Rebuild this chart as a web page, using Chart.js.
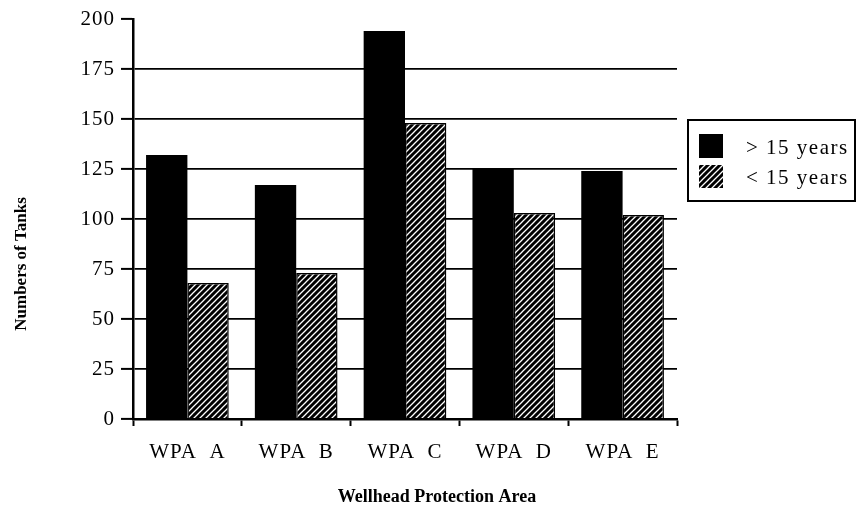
<!DOCTYPE html>
<html>
<head>
<meta charset="utf-8">
<script src="https://cdn.jsdelivr.net/npm/chart.js@4"></script>
<style>
  html, body { margin: 0; background: #fff; }
</style>
</head>
<body>
<canvas id="chart" width="857" height="527"></canvas>
<script>
var categories = ['WPA  A', 'WPA  B', 'WPA  C', 'WPA  D', 'WPA  E'];
var olderTanks = [132, 117, 194, 125, 124];   // > 15 years
var newerTanks = [68, 73, 148, 103, 102];     // < 15 years
var seriesNames = ['> 15 years', '< 15 years'];
var xTitle = 'Wellhead Protection Area';
var yTitle = 'Numbers of Tanks';

var serif = "'Liberation Serif', 'DejaVu Serif', serif";

function hatch() {
  var c = document.createElement('canvas');
  c.width = 6; c.height = 6;
  var g = c.getContext('2d');
  g.fillStyle = '#000';
  g.fillRect(0, 0, 6, 6);
  g.strokeStyle = '#fff';
  g.lineWidth = 1.3;
  g.beginPath();
  g.moveTo(-1, 7); g.lineTo(7, -1);
  g.moveTo(-1, 1); g.lineTo(1, -1);
  g.moveTo(5, 7); g.lineTo(7, 5);
  g.stroke();
  return g.createPattern(c, 'repeat');
}
var hatchFill = hatch();

// axis titles + legend drawn by hand, the reference puts them off-centre
var extras = {
  id: 'extras',
  beforeDraw: function (chart) {
    // the original font (Palatino) runs wider than Times
    chart.ctx.letterSpacing = '1px';
  },
  afterDraw: function (chart) {
    var ctx = chart.ctx;
    ctx.save();
    ctx.letterSpacing = '0px';
    ctx.fillStyle = '#000';
    ctx.textAlign = 'center';
    ctx.textBaseline = 'middle';
    ctx.font = 'bold 18px ' + serif;
    ctx.fillText(xTitle, 437, 497);
    ctx.translate(22, 264);
    ctx.rotate(-Math.PI / 2);
    ctx.font = 'bold 17px ' + serif;
    ctx.fillText(yTitle, 0, 0);
    ctx.restore();

    ctx.save();
    ctx.strokeStyle = '#000';
    ctx.lineWidth = 2;
    ctx.strokeRect(688, 120, 167, 81);
    ctx.fillStyle = '#000';
    ctx.fillRect(699, 134, 24, 24);
    ctx.fillStyle = hatchFill;
    ctx.fillRect(699, 165, 24, 23);
    ctx.fillStyle = '#000';
    ctx.letterSpacing = '1.5px';
    ctx.font = '21px ' + serif;
    ctx.textAlign = 'left';
    ctx.textBaseline = 'middle';
    ctx.fillText(seriesNames[0], 746, 148);
    ctx.fillText(seriesNames[1], 746, 178);
    ctx.restore();
  }
};

new Chart(document.getElementById('chart'), {
  type: 'bar',
  data: {
    labels: categories,
    datasets: [
      {
        label: seriesNames[0],
        data: olderTanks,
        backgroundColor: '#000',
        borderColor: '#000',
        borderWidth: 0
      },
      {
        label: seriesNames[1],
        data: newerTanks,
        backgroundColor: hatchFill,
        borderColor: '#000',
        borderWidth: 1.5
      }
    ]
  },
  options: {
    responsive: false,
    animation: false,
    layout: { padding: { left: 0, top: 19, right: 180, bottom: 0 } },
    datasets: { bar: { categoryPercentage: 0.76, barPercentage: 1.0 } },
    plugins: { legend: { display: false }, tooltip: { enabled: false } },
    scales: {
      x: {
        offset: true,
        grid: { offset: true, drawOnChartArea: false, tickLength: 7, tickWidth: 2, tickColor: '#000' },
        border: { color: '#000', width: 2.5 },
        ticks: { color: '#000', font: { family: serif, size: 21 }, padding: 14 },
        afterFit: function (s) { s.height = 108; }
      },
      y: {
        min: 0,
        max: 200,
        ticks: { stepSize: 25, color: '#000', font: { family: serif, size: 21 }, padding: 6 },
        grid: {
          color: function (c) {
            if (c.tick && (c.tick.value === 0 || c.tick.value === 200)) return 'rgba(0,0,0,0)';
            return '#000';
          },
          lineWidth: 1.8,
          tickColor: '#000',
          tickLength: 12,
          tickWidth: 2
        },
        border: { color: '#000', width: 2.5 },
        afterFit: function (s) { s.width = 133; }
      }
    }
  },
  plugins: [extras]
});
</script>
</body>
</html>
